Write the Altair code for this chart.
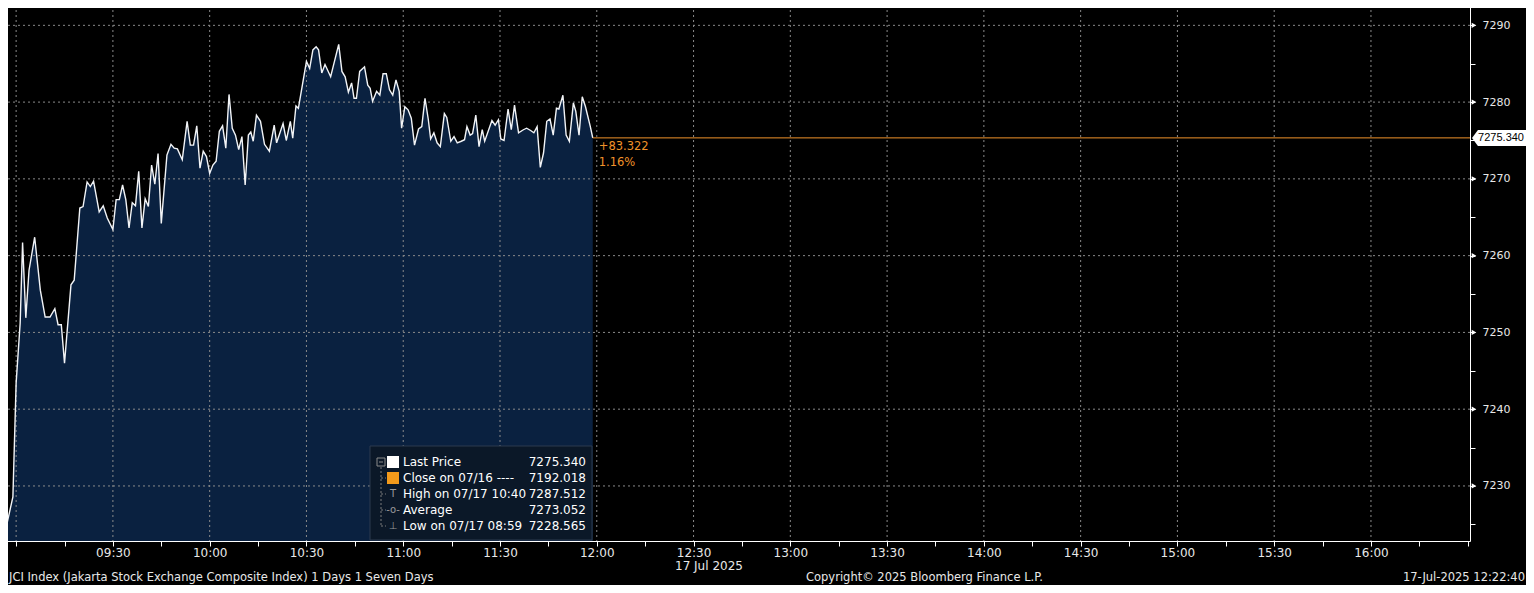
import json
import altair as alt
import pandas as pd

# ---------------- data ----------------
times = [
    "08:56:00", "08:59:00", "09:00:00", "09:01:15", "09:02:00", "09:03:00", "09:04:00", "09:05:45",
    "09:07:30", "09:09:00", "09:10:30", "09:12:00", "09:13:00", "09:14:00", "09:15:00", "09:17:00",
    "09:18:00", "09:19:45", "09:20:45", "09:22:00", "09:23:00", "09:24:00", "09:25:45", "09:27:00",
    "09:28:15", "09:30:00", "09:31:00", "09:32:00", "09:33:00", "09:34:00", "09:35:00", "09:36:00",
    "09:37:00", "09:38:00", "09:39:00", "09:40:00", "09:41:00", "09:42:00", "09:43:00", "09:44:00",
    "09:45:00", "09:46:45", "09:48:00", "09:49:00", "09:50:00", "09:51:30", "09:53:00", "09:54:00",
    "09:55:00", "09:56:00", "09:57:00", "09:58:00", "09:59:00", "10:00:00", "10:01:00", "10:02:00",
    "10:03:00", "10:04:00", "10:05:00", "10:06:00", "10:07:00", "10:08:00", "10:09:00", "10:10:00",
    "10:11:00", "10:12:00", "10:12:45", "10:13:30", "10:14:30", "10:15:45", "10:17:00", "10:18:30",
    "10:20:00", "10:20:45", "10:22:45", "10:23:45", "10:25:00", "10:25:45", "10:26:45", "10:27:30",
    "10:30:00", "10:31:00", "10:32:00", "10:33:00", "10:33:45", "10:34:45", "10:35:45", "10:37:30",
    "10:40:00", "10:41:00", "10:42:00", "10:43:00", "10:44:00", "10:44:45", "10:45:30", "10:46:30",
    "10:48:00", "10:49:00", "10:49:45", "10:50:30", "10:51:45", "10:52:45", "10:53:45", "10:54:45",
    "10:55:45", "10:56:45", "10:57:45", "10:58:45", "10:59:30", "11:00:30", "11:01:30", "11:02:30",
    "11:03:30", "11:04:45", "11:05:45", "11:06:45", "11:07:45", "11:08:30", "11:09:30", "11:10:30",
    "11:11:30", "11:12:45", "11:13:30", "11:14:45", "11:15:45", "11:16:45", "11:18:00", "11:19:00",
    "11:19:45", "11:20:45", "11:21:30", "11:22:30", "11:23:30", "11:24:30", "11:25:15", "11:27:30",
    "11:28:30", "11:29:30", "11:30:15", "11:31:15", "11:32:30", "11:33:30", "11:34:30", "11:35:45",
    "11:37:15", "11:38:15", "11:39:30", "11:40:30", "11:41:30", "11:42:30", "11:43:30", "11:44:30",
    "11:45:30", "11:46:30", "11:47:30", "11:48:15", "11:49:30", "11:50:30", "11:51:30", "11:52:45",
    "11:53:30", "11:54:30", "11:55:30", "11:56:30", "11:58:00", "11:58:45",
]
prices = [
    7222.9, 7228.565, 7243.4, 7251.2, 7261.7, 7251.9, 7258.1, 7262.4,
    7255.5, 7252.0, 7252.0, 7253.1, 7251.0, 7251.0, 7246.0, 7256.2,
    7256.8, 7266.2, 7266.4, 7269.6, 7269.0, 7269.7, 7265.7, 7266.5,
    7264.9, 7263.4, 7267.3, 7267.3, 7269.2, 7267.3, 7263.6, 7266.9,
    7266.5, 7271.0, 7263.6, 7267.4, 7266.4, 7271.8, 7269.3, 7273.3,
    7264.2, 7273.1, 7274.5, 7274.0, 7273.9, 7272.5, 7277.5, 7274.4,
    7274.4, 7276.9, 7271.4, 7273.6, 7272.9, 7270.7, 7271.8, 7272.3,
    7276.2, 7276.9, 7274.0, 7281.0, 7276.6, 7275.7, 7273.8, 7275.5,
    7269.2, 7275.7, 7276.1, 7274.9, 7278.3, 7277.5, 7274.5, 7273.6,
    7277.0, 7274.7, 7277.2, 7275.0, 7277.5, 7275.3, 7279.5, 7279.2,
    7285.3, 7284.4, 7286.8, 7287.2, 7286.8, 7283.8, 7284.9, 7283.3,
    7287.512, 7284.0, 7283.3, 7281.3, 7282.5, 7280.5, 7280.5, 7284.0,
    7284.6, 7282.2, 7281.8, 7280.1, 7281.4, 7280.9, 7283.7, 7283.7,
    7281.6, 7280.9, 7282.9, 7281.4, 7276.6, 7279.4, 7279.0, 7277.9,
    7274.4, 7276.5, 7276.8, 7280.5, 7277.8, 7275.2, 7276.0, 7274.7,
    7274.2, 7278.5, 7278.0, 7274.9, 7275.5, 7274.7, 7274.9, 7275.1,
    7276.8, 7275.7, 7275.9, 7278.3, 7274.2, 7276.4, 7274.9, 7277.6,
    7277.0, 7277.7, 7275.2, 7275.0, 7279.1, 7276.4, 7279.6, 7276.0,
    7276.4, 7276.6, 7276.3, 7276.0, 7276.8, 7271.5, 7273.4, 7277.5,
    7277.8, 7275.7, 7279.2, 7279.1, 7280.9, 7275.7, 7274.9, 7279.9,
    7278.8, 7275.7, 7280.7, 7279.4, 7276.8, 7275.34,
]

grid_times = ["09:00", "09:30", "10:00", "10:30", "11:00", "11:30", "12:00", "12:30",
              "13:00", "13:30", "14:00", "14:30", "15:00", "15:30", "16:00"]
x_tick_labels = ["09:30", "10:00", "10:30", "11:00", "11:30", "12:00", "12:30",
                 "13:00", "13:30", "14:00", "14:30", "15:00", "15:30", "16:00"]
grid_prices = [7230, 7240, 7250, 7260, 7270, 7280, 7290]

last_price_label = "7275.340"
change_abs = "+83.322"
change_pct = "1.16%"
date_label = "17 Jul 2025"
legend_labels = ["Last Price", "Close on 07/16 ----", "High on 07/17 10:40", "Average", "Low on 07/17 08:59"]
legend_values = ["7275.340", "7192.018", "7287.512", "7273.052", "7228.565"]
legend_icons = ["", "", "T", "-o-", "\u22a5"]
footer_left = "JCI Index (Jakarta Stock Exchange Composite Index) 1 Days 1 Seven Days"
footer_mid = "Copyright\u00a9 2025 Bloomberg Finance L.P."
footer_right = "17-Jul-2025 12:22:40"

# ---------------- styling / layout ----------------
W, H = 1470, 541
X_MIN, X_MAX = -5.0, 450.7
Y_MIN, Y_MAX = 7222.83, 7293.3
FONT = "DejaVu Sans"
NAVY = "#0a2140"
ORANGE = "#f0922a"
GRID = "#8a8a8a"
TXT = "#e8e8e8"


def to_min(t):
    parts = [int(p) for p in t.split(":")]
    while len(parts) < 3:
        parts.append(0)
    h, m, s = parts
    return (h - 9) * 60 + m + s / 60.0


df = pd.DataFrame({"m": [to_min(t) for t in times], "price": prices})
xs = alt.Scale(domain=[X_MIN, X_MAX], nice=False, zero=False)
ys = alt.Scale(domain=[Y_MIN, Y_MAX], nice=False, zero=False)

x_label_expr = ("datum.value >= 30 && datum.value <= 420 && datum.value % 30 === 0 ? "
                + json.dumps(x_tick_labels) + "[(datum.value - 30) / 30] : ''")

xaxis = alt.Axis(values=list(range(0, 451, 15)), labelExpr=x_label_expr, grid=False,
                 domainColor="white", domainWidth=1, tickColor="white", tickSize=5, tickWidth=1,
                 labelColor=TXT, labelFont=FONT, labelFontSize=12, labelPadding=1,
                 labelFlush=False, labelOverlap=False, title=None)
yaxis = alt.Axis(orient="right", values=list(range(7225, 7291, 5)), format="d",
                 labelExpr="datum.value % 10 === 0 ? datum.label : ''", grid=False,
                 domainColor="white", domainWidth=1, tickColor="white", tickSize=5, tickWidth=1,
                 labelColor=TXT, labelFont=FONT, labelFontSize=11, labelPadding=7,
                 labelOverlap=False, labelFlush=False, title=None)


def X(field):
    return alt.X(field, type="quantitative", scale=xs, axis=xaxis)


def Y(field):
    return alt.Y(field, type="quantitative", scale=ys, axis=yaxis)


base = alt.Chart(df)
area = base.mark_area(color=NAVY, opacity=1, clip=True).encode(
    x=X("m"), y=Y("price"), y2=alt.datum(Y_MIN))
line = base.mark_line(color="#f2f4f7", strokeWidth=1.4, clip=True).encode(
    x=X("m"), y=Y("price"))

vgrid = alt.Chart(pd.DataFrame({"m": [to_min(t) for t in grid_times]})).mark_rule(
    color=GRID, strokeDash=[2, 3], strokeWidth=1).encode(x=X("m"))
hgrid = alt.Chart(pd.DataFrame({"price": grid_prices})).mark_rule(
    color=GRID, strokeDash=[2, 3], strokeWidth=1).encode(y=Y("price"))

df_last = pd.DataFrame({"m": [df["m"].iloc[-1]], "m2": [X_MAX], "price": [prices[-1]]})
last = alt.Chart(df_last)
orange_rule = last.mark_rule(color=ORANGE, strokeWidth=1).encode(
    x=X("m"), x2="m2:Q", y=Y("price"))
chg1 = last.mark_text(align="left", baseline="middle", dx=6, dy=9, color=ORANGE,
                      font=FONT, fontSize=11.5, text=change_abs).encode(x=X("m"), y=Y("price"))
chg2 = last.mark_text(align="left", baseline="middle", dx=6, dy=25, color=ORANGE,
                      font=FONT, fontSize=11.5, text=change_pct).encode(x=X("m"), y=Y("price"))

TAG_PATH = "M -1 0 L -0.78 -0.2963 L 1 -0.2963 L 1 0.2963 L -0.78 0.2963 Z"
tag = last.mark_point(shape=TAG_PATH, size=54 * 54, filled=True, fill="white", opacity=1,
                      strokeWidth=0, clip=False).encode(x=alt.value(1499), y=Y("price"))
tag_text = last.mark_text(align="right", baseline="middle", color="black",
                          font="Liberation Sans", fontSize=11, text=last_price_label,
                          clip=False).encode(x=alt.value(1524), y=Y("price"))

tri = alt.Chart(pd.DataFrame({"price": grid_prices})).mark_point(
    shape="triangle-right", filled=True, color="white", opacity=1, size=28, clip=False).encode(
    x=alt.value(1474), y=Y("price"))

one = alt.Data(values=[{}])


def txt(text, x, y, align="left", color=TXT, size=12):
    return alt.Chart(one).mark_text(text=text, align=align, baseline="middle", color=color,
                                    font=FONT, fontSize=size).encode(
        x=alt.value(x), y=alt.value(y))


layers = [area, vgrid, hgrid, line, orange_rule, chg1, chg2]

# legend box
layers.append(alt.Chart(one).mark_rect(fill="#0b1828", stroke="#2c3b4e", strokeWidth=1).encode(
    x=alt.value(370), x2=alt.value(592), y=alt.value(446), y2=alt.value(540)))
layers.append(alt.Chart(one).mark_rule(color="#7a7a7a", strokeDash=[2, 2]).encode(
    x=alt.value(381), y=alt.value(467), y2=alt.value(526)))
layers.append(alt.Chart(one).mark_rect(fill="#0b1828", stroke="#8a8a8a", strokeWidth=1).encode(
    x=alt.value(377), x2=alt.value(385), y=alt.value(458), y2=alt.value(466)))
layers.append(alt.Chart(one).mark_rule(color="#8a8a8a").encode(
    x=alt.value(379), x2=alt.value(383), y=alt.value(462)))
row_y = [462 + 16 * i for i in range(len(legend_labels))]
for i, (lab, val, ic) in enumerate(zip(legend_labels, legend_values, legend_icons)):
    y = row_y[i]
    if i > 0:
        layers.append(alt.Chart(one).mark_rule(color="#7a7a7a", strokeDash=[2, 2]).encode(
            x=alt.value(381), x2=alt.value(386), y=alt.value(y)))
    if i == 0 or i == 1:
        layers.append(alt.Chart(one).mark_rect(fill="white" if i == 0 else "#f39a1b").encode(
            x=alt.value(387), x2=alt.value(399), y=alt.value(y - 6), y2=alt.value(y + 6)))
    else:
        layers.append(txt(ic, 393, y, align="center", color="#9a9a9a", size=10))
    layers.append(txt(lab, 403, y, size=12, color="white"))
    layers.append(txt(val, 586, y, align="right", size=12, color="white"))

layers += [tag, tag_text, tri]
layers.append(txt(date_label, 675, 566, size=12))
layers.append(txt(footer_left, 9, 578, size=11.5))
layers.append(txt(footer_mid, 806, 578, size=11.5))
layers.append(txt(footer_right, 1525, 578, align="right", size=11.5))

chart = alt.layer(*layers).properties(
    width=W, height=H,
    autosize=alt.AutoSizeParams(type="none"),
    padding={"left": -8, "top": -8, "right": 1526 - W, "bottom": 585 - H},
).configure(background="#000000").configure_view(stroke=None)

chart.save("out.html", embed_options={"renderer": "svg", "actions": False})
